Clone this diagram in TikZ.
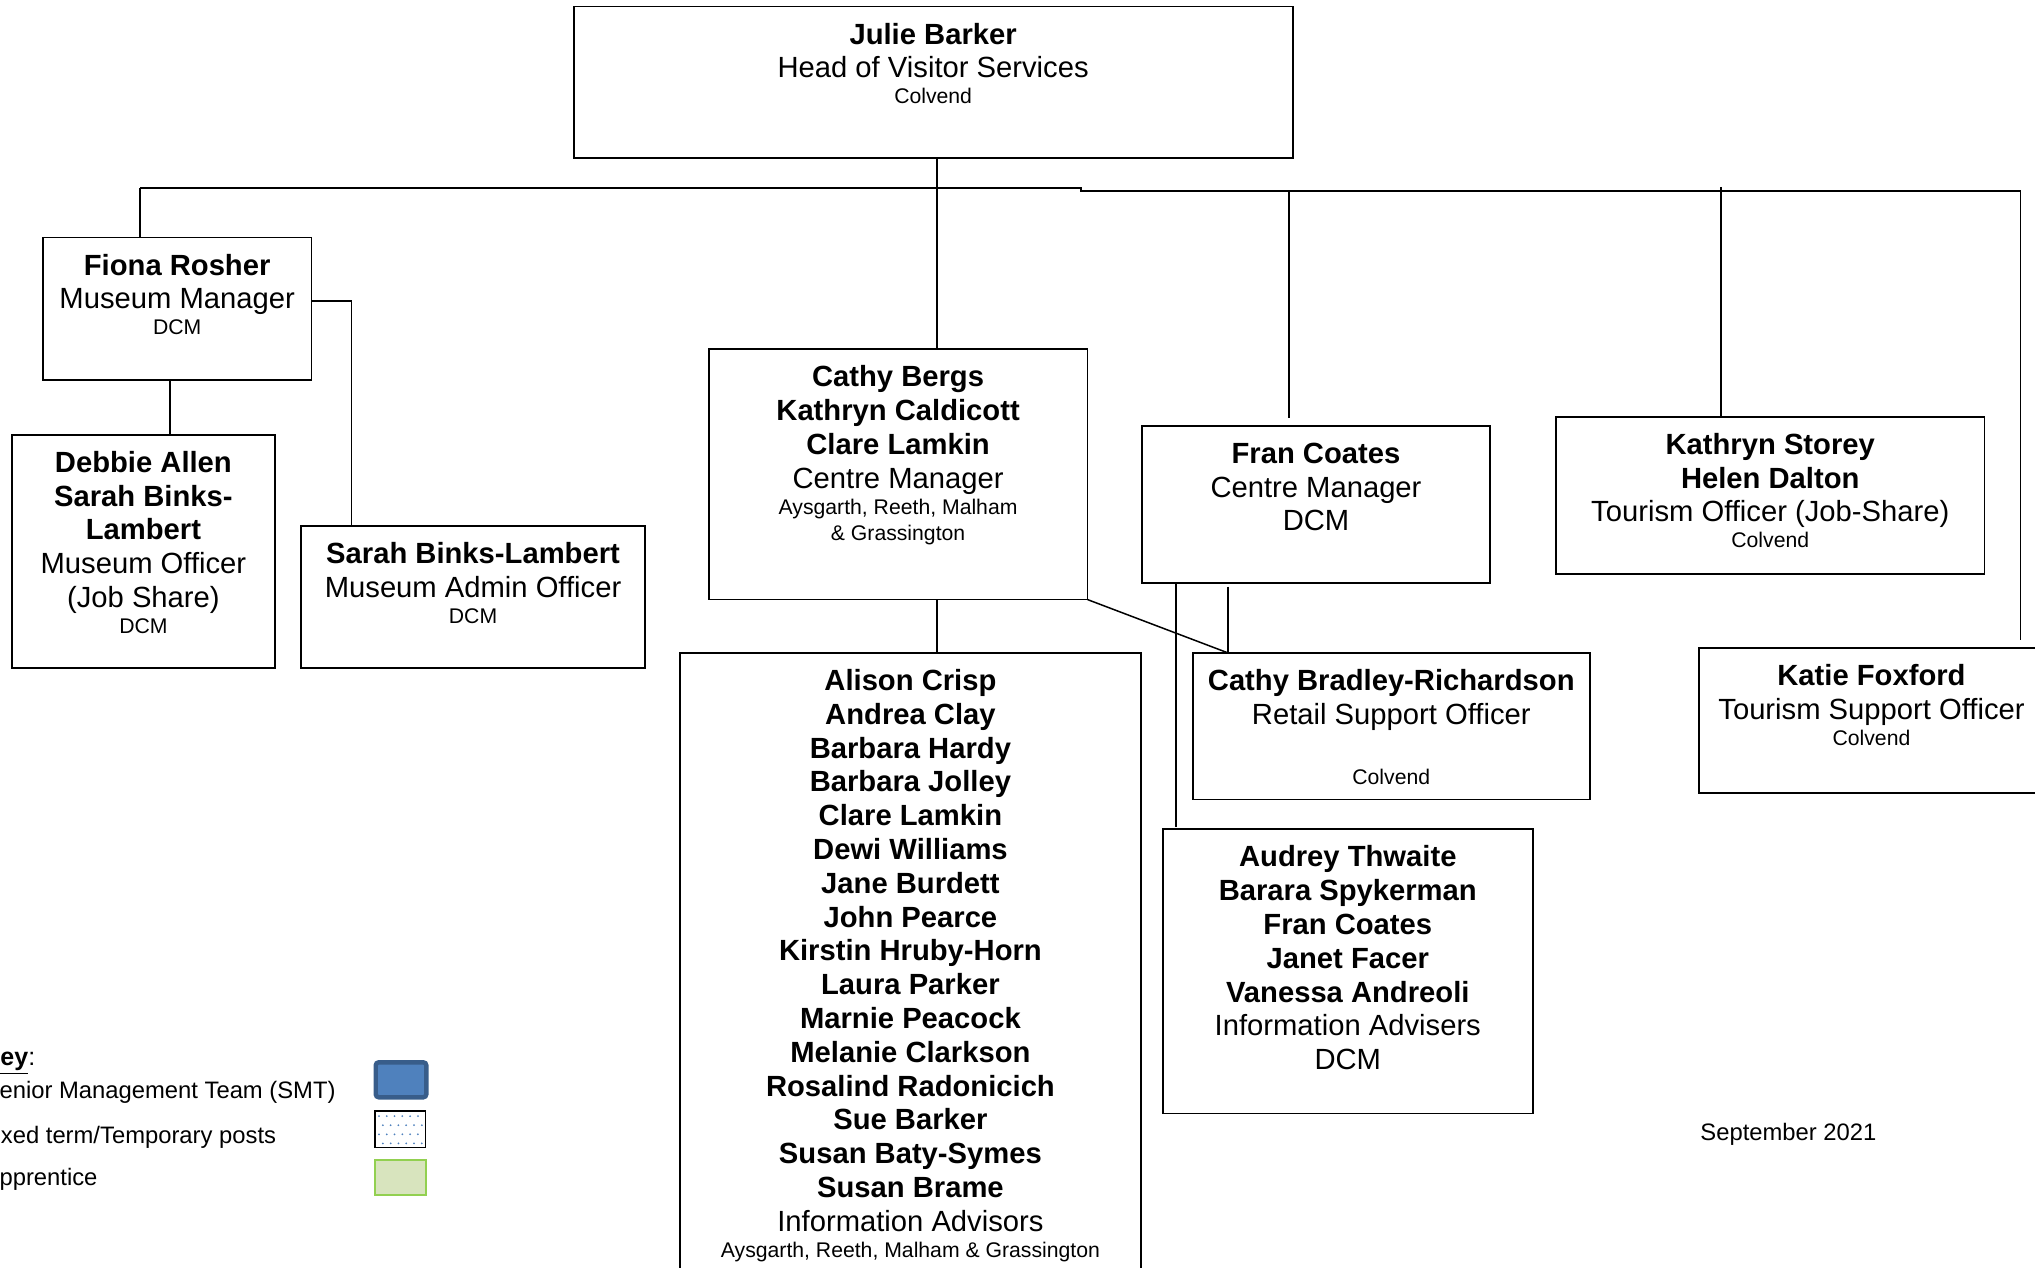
\documentclass[tikz,border=0pt]{standalone}
\usepackage{fontspec}
\setmainfont{Liberation Sans}
\newcommand{\bigfont}{\fontsize{14.6}{16.9}\selectfont}
\newcommand{\smallfont}{\fontsize{10.6}{13}\selectfont}
\newcommand{\keyfont}{\fontsize{11.9}{14}\selectfont}
\newcommand{\nm}[1]{{\bigfont\bfseries #1\par}}
\newcommand{\jb}[1]{{\bigfont #1\par}}
\newcommand{\pl}[1]{{\smallfont #1\par}}
\newlength{\unitpx}\setlength{\unitpx}{0.6489pt}
\newlength{\boxw}\newlength{\boxh}
\newcommand{\staffbox}[6]{%
  \setlength{\boxw}{\dimexpr\unitpx*(#4-#2)\relax}%
  \setlength{\boxh}{\dimexpr\unitpx*(#5-#3)\relax}%
  \node[staff] (#1) at (#2,#3)
    {\parbox[t][\boxh][t]{\boxw}{\centering\rule{0pt}{18.8pt}#6}};}
\definecolor{smtblue}{RGB}{79,129,189}
\definecolor{smtedge}{RGB}{56,93,138}
\definecolor{apprfill}{RGB}{216,228,190}
\definecolor{appredge}{RGB}{146,208,80}
\begin{document}
\begin{tikzpicture}[x=0.6489pt,y=-0.6489pt,
    staff/.style={draw,line width=0.9pt,inner sep=0pt,outer sep=0pt,anchor=north west},
    link/.style={line width=0.75pt},
    bus/.style={line width=1.2pt}]
  \useasboundingbox (0,0) rectangle (1568,977);
  % staff boxes
  \staffbox{julie}{442}{5}{996}{122}{\nm{Julie Barker}\jb{Head of Visitor Services}\pl{Colvend}}
  \staffbox{fiona}{33}{183}{240}{293}{\nm{Fiona Rosher}\jb{Museum Manager}\pl{DCM}}
  \staffbox{debbie}{9}{335}{212}{515}{\nm{Debbie Allen}\nm{Sarah Binks-}\nm{Lambert}\jb{Museum Officer}\jb{(Job Share)}\pl{DCM}}
  \staffbox{sarahb}{232}{405}{497}{515}{\nm{Sarah Binks-Lambert}\jb{Museum Admin Officer}\pl{DCM}}
  \staffbox{cathyb}{546}{269}{838}{462}{\nm{Cathy Bergs}\nm{Kathryn Caldicott}\nm{Clare Lamkin}\jb{Centre Manager}\pl{Aysgarth, Reeth, Malham}\pl{\& Grassington}}
  \staffbox{alison}{524}{503}{879}{990}{\nm{Alison Crisp}\nm{Andrea Clay}\nm{Barbara Hardy}\nm{Barbara Jolley}\nm{Clare Lamkin}\nm{Dewi Williams}\nm{Jane Burdett}\nm{John Pearce}\nm{Kirstin Hruby-Horn}\nm{Laura Parker}\nm{Marnie Peacock}\nm{Melanie Clarkson}\nm{Rosalind Radonicich}\nm{Sue Barker}\nm{Susan Baty-Symes}\nm{Susan Brame}\jb{Information Advisors}\pl{Aysgarth, Reeth, Malham \& Grassington}}
  \staffbox{fran}{880}{328}{1148}{449}{\nm{Fran Coates}\jb{Centre Manager}\jb{DCM}}
  \staffbox{cbr}{919}{503}{1225}{616}{\nm{Cathy Bradley-Richardson}\jb{Retail Support Officer}\vspace{16.9pt}\pl{Colvend}}
  \staffbox{audrey}{896}{639}{1181}{858}{\nm{Audrey Thwaite}\nm{Barara Spykerman}\nm{Fran Coates}\nm{Janet Facer}\nm{Vanessa Andreoli}\jb{Information Advisers}\jb{DCM}}
  \staffbox{kstorey}{1199}{321}{1529}{442}{\nm{Kathryn Storey}\nm{Helen Dalton}\jb{Tourism Officer (Job-Share)}\pl{Colvend}}
  \staffbox{katie}{1309}{499}{1575}{611}{\nm{Katie Foxford}\jb{Tourism Support Officer}\pl{Colvend}}
  % bus and drops
  \coordinate (busL) at (108,145);
  \coordinate (busM) at (833,145);
  \coordinate (busN) at (833,147);
  \coordinate (busR) at (1557,147);
  \coordinate (trunk) at (722,146);
  \coordinate (frantop) at (993,322);
  \coordinate (ksdrop) at (1326,144);
  \coordinate (foxdrop) at (1557,493);
  \draw[bus] (busL) -- (busM) -- (busN) -- (busR);
  \draw[link] (busL) -- (fiona.north -| busL);
  \draw[link] (julie.south -| trunk) -- (cathyb.north -| trunk);
  \draw[link] (frantop |- busN) -- (frantop);
  \draw[link] (ksdrop) -- (kstorey.north -| ksdrop);
  \draw[link] (busR) -- (foxdrop);
  % museum
  \coordinate (fionabend) at (271,232);
  \coordinate (fionadrop) at (131,300);
  \draw[link] (fiona.east |- fionabend) -- (fionabend) -- (sarahb.north -| fionabend);
  \draw[link] (fiona.south -| fionadrop) -- (debbie.north -| fionadrop);
  % centres
  \coordinate (cbrtop) at (946,503);
  \coordinate (cbrstub) at (946,452);
  \coordinate (advdrop) at (906,637);
  \draw[link] (cathyb.south -| trunk) -- (alison.north -| trunk);
  \draw[link] (cathyb.south east) -- (cbrtop);
  \draw[link] (cbrstub) -- (cbrtop);
  \draw[link] (fran.south -| advdrop) -- (advdrop);
  % key
  \node[anchor=west,font=\fontsize{12.5}{15}\selectfont] (keyhead) at (-19,818) {\textbf{\underline{Key}}:};
  \node[anchor=west,font=\keyfont] (smtlabel) at (-18,842) {Senior Management Team (SMT)};
  \node[anchor=west,font=\keyfont] (templabel) at (-20,876) {Fixed term/Temporary posts};
  \node[anchor=west,font=\keyfont] (apprlabel) at (-18,909) {Apprentice};
  \node[draw=smtedge,fill=smtblue,line width=2.2pt,rounded corners=1.5pt,minimum width=25.3pt,minimum height=17.5pt,inner sep=0pt] (smtkey) at (309,832) {};
  \node[draw,line width=0.7pt,minimum width=25.3pt,minimum height=18.2pt,inner sep=0pt] (tempkey) at (308.5,870) {};
  \foreach \i in {0,...,5}
    \foreach \j in {0,...,3}
      \fill[smtblue] ({292+6*\i+3*mod(\j,2)},{860+7*\j}) circle[radius=0.5pt];
  \node[draw=appredge,fill=apprfill,line width=1pt,minimum width=25.3pt,minimum height=17.5pt,inner sep=0pt] (apprkey) at (308.5,907.5) {};
  \node[font=\keyfont] (datenote) at (1378,874) {September 2021};
\end{tikzpicture}
\end{document}
